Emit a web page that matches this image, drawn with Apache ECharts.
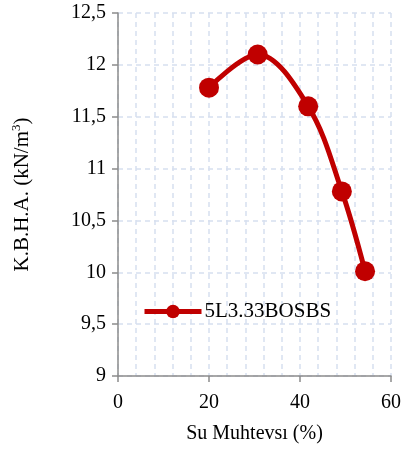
<!DOCTYPE html>
<html><head><meta charset="utf-8">
<script src="https://cdn.jsdelivr.net/npm/echarts@6/dist/echarts.min.js"></script>
<style>html,body{margin:0;padding:0;background:#fff}#c{width:404px;height:452px}</style>
</head><body><div id="c"></div>
<script>
var seriesName = '5L3.33BOSBS';
var waterContent = [20, 30.7, 41.8, 49.2, 54.3];
var dryUnitWeight = [11.78, 12.1, 11.6, 10.78, 10.01];
var xTitle = 'Su Muhtevsı (%)';
var yTitle = 'K.B.H.A. (kN/m{sup|3})';

var data = waterContent.map(function (x, i) { return [x, dryUnitWeight[i]]; });
var font = '"Liberation Serif", "Times New Roman", serif';
var gridColor = '#d6e0f0';
var axisColor = '#8c8c8c';
var red = '#c00000';

var chart = echarts.init(document.getElementById('c'), null, {renderer: 'canvas'});
chart.setOption({
  animation: false,
  backgroundColor: '#fff',
  textStyle: {fontFamily: font},
  grid: {left: 118, right: 11, top: 13, bottom: 76, containLabel: false},
  legend: {
    left: 142, top: 301, padding: 0,
    itemWidth: 57, itemHeight: 17, itemGap: 4,
    data: [{name: seriesName}],
    lineStyle: {width: 5, color: red},
    itemStyle: {color: red},
    textStyle: {fontFamily: font, fontSize: 21, color: '#000', padding: [0, 0, 0, -2]}
  },
  xAxis: {
    type: 'value', min: 0, max: 60, interval: 20,
    name: xTitle, nameLocation: 'middle', nameGap: 48,
    nameTextStyle: {fontFamily: font, fontSize: 20, color: '#000'},
    axisLine: {show: true, lineStyle: {color: axisColor, width: 1.5}},
    axisTick: {show: true, length: 6, lineStyle: {color: axisColor, width: 1.5}},
    axisLabel: {fontFamily: font, fontSize: 20, color: '#000', margin: 17},
    splitLine: {show: true, lineStyle: {color: gridColor, type: [5, 4], width: 1.5}},
    minorTick: {show: false, splitNumber: 5},
    minorSplitLine: {show: true, lineStyle: {color: gridColor, type: [5, 4], width: 1.5}}
  },
  yAxis: {
    type: 'value', min: 9, max: 12.5, interval: 0.5,
    name: yTitle, nameLocation: 'middle', nameGap: 84, nameRotate: 90,
    nameTextStyle: {fontFamily: font, fontSize: 21, lineHeight: 24, color: '#000',
      rich: {sup: {fontFamily: font, fontSize: 13, lineHeight: 14, verticalAlign: 'top', color: '#000'}}},
    axisLine: {show: true, lineStyle: {color: axisColor, width: 1.5}},
    axisTick: {show: true, length: 6, lineStyle: {color: axisColor, width: 1.5}},
    axisLabel: {fontFamily: font, fontSize: 20, color: '#000', margin: 12,
      formatter: function (v) { return String(v).replace('.', ','); }},
    splitLine: {show: true, lineStyle: {color: gridColor, type: [5, 4], width: 1.5}}
  },
  series: [{
    name: seriesName, type: 'line', data: data,
    smooth: 0.35,
    symbol: 'circle', symbolSize: 20,
    lineStyle: {color: red, width: 5},
    itemStyle: {color: red}
  }]
});
</script></body></html>
